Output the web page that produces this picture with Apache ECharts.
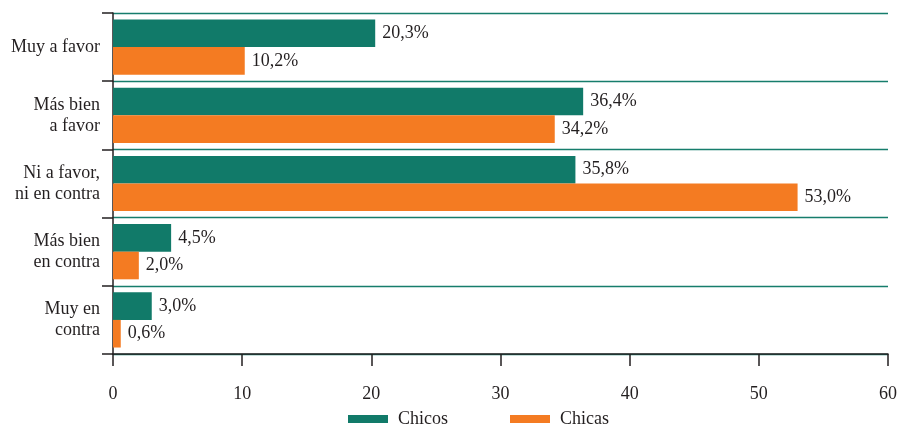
<!DOCTYPE html>
<html><head><meta charset="utf-8">
<script src="https://cdn.jsdelivr.net/npm/echarts@6/dist/echarts.min.js"></script>
<style>html,body{margin:0;padding:0;background:#fff}#c{width:902px;height:426px}</style>
</head><body><div id="c"></div>
<script>
const categories = ["Muy a favor", "Más bien\na favor", "Ni a favor,\nni en contra", "Más bien\nen contra", "Muy en\ncontra"];
const chicos = [20.3, 36.4, 35.8, 4.5, 3.0];
const chicas = [10.2, 34.2, 53.0, 2.0, 0.6];
const xTicks = [0, 10, 20, 30, 40, 50, 60];
const seriesNames = ["Chicos", "Chicas"];

const FONT = "'Liberation Serif', 'DejaVu Serif', serif";
const TXT = "#231f20";
const fmt = p => p.value.toFixed(1).replace('.', ',') + '%';

const chart = echarts.init(document.getElementById('c'), null, {renderer: 'canvas'});
chart.setOption({
  animation: false,
  textStyle: {fontFamily: FONT, color: TXT},
  grid: {left: 113, right: 14, top: 13, bottom: 72, containLabel: false},
  legend: {
    data: seriesNames, top: 410, left: 348, padding: 0, itemWidth: 40, itemHeight: 8, itemGap: 62,
    icon: 'rect',
    textStyle: {fontFamily: FONT, fontSize: 18, color: TXT, padding: [0, 0, 0, 5]}
  },
  xAxis: {
    type: 'value', min: xTicks[0], max: xTicks[xTicks.length - 1], interval: 10,
    axisLine: {show: true, lineStyle: {color: '#231f20', width: 1.5}},
    axisTick: {show: true, length: 12, lineStyle: {color: '#231f20', width: 1.5}},
    axisLabel: {fontFamily: FONT, fontSize: 18, color: TXT, margin: 31},
    splitLine: {show: false}
  },
  yAxis: {
    type: 'category', data: categories, inverse: true,
    axisLine: {show: true, lineStyle: {color: '#231f20', width: 1.5}},
    axisTick: {show: true, length: 11, lineStyle: {color: '#231f20', width: 1.5}},
    axisLabel: {fontFamily: FONT, fontSize: 18, color: TXT, margin: 13, lineHeight: 21, align: 'right'},
    splitLine: {show: true, lineStyle: {color: '#167d6c', width: 1.3}}
  },
  series: [
    {
      name: seriesNames[0], type: 'bar', data: chicos, barGap: '0%', barCategoryGap: '19%',
      itemStyle: {color: '#117a69'},
      label: {show: true, position: 'right', distance: 7, formatter: fmt, fontFamily: FONT, fontSize: 18, color: TXT}
    },
    {
      name: seriesNames[1], type: 'bar', data: chicas, barGap: '0%', barCategoryGap: '19%',
      itemStyle: {color: '#f47b22'},
      label: {show: true, position: 'right', distance: 7, formatter: fmt, fontFamily: FONT, fontSize: 18, color: TXT}
    }
  ]
});
</script></body></html>
